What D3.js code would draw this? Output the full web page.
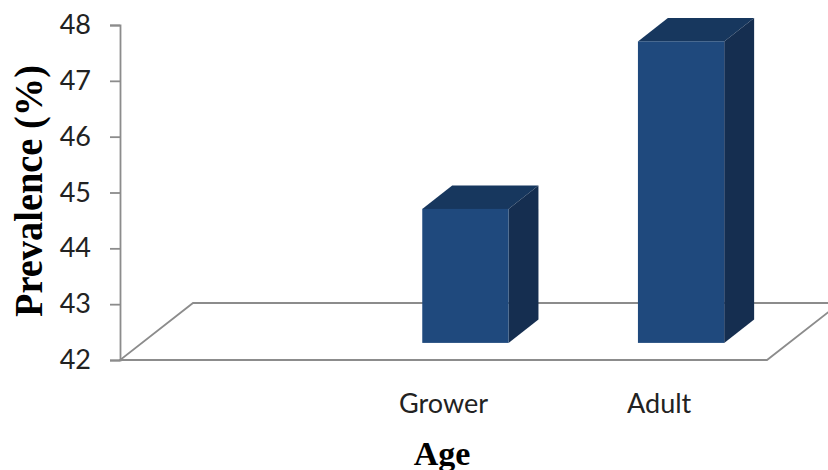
<!DOCTYPE html>
<html>
<head>
<meta charset="utf-8">
<script src="https://cdn.jsdelivr.net/npm/d3@7"></script>
<style>
  html, body { margin: 0; padding: 0; background: #ffffff; }
  svg { display: block; }
</style>
</head>
<body>
<svg id="chart" width="828" height="470"></svg>
<script>
// Prevalence by age group (3D column chart)
const categories = ["", "Grower", "Adult"];
const prevalence = [null, 44.4, 47.4];
const yTicks = [42, 43, 44, 45, 46, 47, 48];
const xTitle = "Age";
const yTitle = "Prevalence (%)";

const svg = d3.select("#chart");

// Front plane of the plot
const plotLeft = 120, plotRight = 767, plotTop = 25, plotBottom = 360;
// Oblique depth vector of the floor (front edge -> back edge)
const depthX = 73, depthY = -57;
// Bars sit between these fractions of the floor depth
const barFront = 0.30, barBack = 0.71;

const x = d3.scaleBand().domain(categories).range([plotLeft, plotRight]).paddingInner(0).paddingOuter(0);
const y = d3.scaleLinear().domain([yTicks[0], yTicks[yTicks.length - 1]]).range([plotBottom, plotTop]);
const barW = x.bandwidth() * 0.4;

const grey = "#8c8c8c";
const labelFont = "Lato, 'Open Sans', sans-serif";
const titleFont = "'Liberation Serif', 'Times New Roman', serif";

// Floor outline
const floor = [
  [plotLeft, plotBottom], [plotRight, plotBottom],
  [plotRight + depthX, plotBottom + depthY], [plotLeft + depthX, plotBottom + depthY]
];
svg.append("path")
  .attr("d", d3.line()(floor) + "Z")
  .attr("fill", "none")
  .attr("stroke", grey)
  .attr("stroke-width", 1.8)
  .attr("stroke-linejoin", "miter");

// Value axis
const yAxis = svg.append("g")
  .attr("transform", `translate(${plotLeft},0)`)
  .call(d3.axisLeft(y).tickValues(yTicks).tickSize(10).tickPadding(19).tickFormat(d3.format("d")));
yAxis.select(".domain").attr("stroke", grey).attr("stroke-width", 1.8);
yAxis.selectAll(".tick line").attr("stroke", grey).attr("stroke-width", 1.8);
yAxis.selectAll(".tick text")
  .attr("fill", "#222")
  .style("font-family", labelFont)
  .style("font-size", "27px");

// Bars
const faceFront = "#1f497d", faceTop = "#17375e", faceSide = "#152e50";
const bars = svg.append("g");
categories.forEach((c, i) => {
  const v = prevalence[i];
  if (v == null) return;
  const cx = x(c) + x.bandwidth() / 2;
  const fx = depthX * barFront, fy = depthY * barFront;
  const bx = depthX * barBack, by = depthY * barBack;
  const x0 = cx - barW / 2 + fx, x1 = cx + barW / 2 + fx;
  const yTop = y(v) + fy, yBot = y(yTicks[0]) + fy;
  const dx = bx - fx, dy = by - fy;

  // top face
  bars.append("path")
    .attr("d", d3.line()([[x0, yTop], [x0 + dx, yTop + dy], [x1 + dx, yTop + dy], [x1, yTop]]) + "Z")
    .attr("fill", faceTop);
  // side face
  bars.append("path")
    .attr("d", d3.line()([[x1, yTop], [x1 + dx, yTop + dy], [x1 + dx, yBot + dy], [x1, yBot]]) + "Z")
    .attr("fill", faceSide);
  // front face
  bars.append("rect")
    .attr("x", x0).attr("y", yTop)
    .attr("width", x1 - x0).attr("height", yBot - yTop)
    .attr("fill", faceFront);
});

// Category labels
svg.append("g").selectAll("text")
  .data(categories)
  .join("text")
  .attr("x", d => x(d) + x.bandwidth() / 2)
  .attr("y", 413)
  .attr("text-anchor", "middle")
  .attr("fill", "#222")
  .style("font-family", labelFont)
  .style("font-size", "27px")
  .text(d => d);

// Axis titles
svg.append("text")
  .attr("x", 442).attr("y", 465)
  .attr("text-anchor", "middle")
  .style("font-family", titleFont)
  .style("font-weight", "bold")
  .style("font-size", "34px")
  .text(xTitle);

svg.append("text")
  .attr("transform", "translate(42,191) rotate(-90)")
  .attr("text-anchor", "middle")
  .attr("textLength", 252)
  .attr("lengthAdjust", "spacingAndGlyphs")
  .style("font-family", titleFont)
  .style("font-weight", "bold")
  .style("font-size", "39px")
  .text(yTitle);
</script>
</body>
</html>
